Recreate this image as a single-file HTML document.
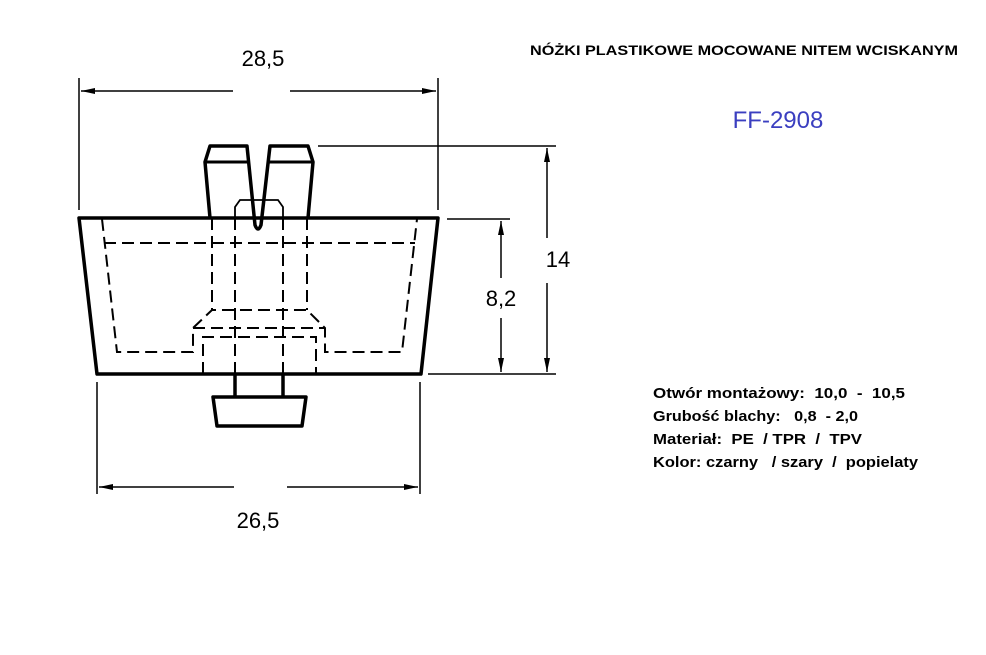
<!DOCTYPE html>
<html><head><meta charset="utf-8"><style>
html,body{margin:0;padding:0;background:#fff;}
svg{display:block;}
text{white-space:pre;}
</style></head><body>
<svg width="986" height="655" viewBox="0 0 986 655" xmlns="http://www.w3.org/2000/svg">
<defs>
<marker id="a" viewBox="0 0 14 6" refX="14" refY="3" markerWidth="14" markerHeight="6" orient="auto" markerUnits="userSpaceOnUse"><path d="M0,0 L14,3 L0,6 z" fill="#000"/></marker>
</defs>
<g fill="none" stroke="#000">
<path d="M79,218 L438,218 L421,374 L97,374 Z" stroke-width="3.5" stroke-linejoin="round"/>
<path d="M210,218 L205,162 L210,146 L247,146 L255,225 Q258,233 261,225 L270,146 L308,146 L313,162 L308,218" stroke-width="3.5" stroke-linejoin="round"/>
<path d="M205,162 L248,162 M268,162 L313,162" stroke-width="3"/>
<path d="M235,218 L235,207 L240,200 L278,200 L283,207 L283,218" stroke-width="1.8"/>
<path d="M235,374 L235,397 M283,374 L283,397" stroke-width="3.5"/>
<path d="M213,397 L306,397 L302,426 L217,426 Z" stroke-width="3.5" stroke-linejoin="round"/>
<g stroke-width="2" stroke-dasharray="12,6">
<path d="M102,219 L117,352 L193,352 L193,328 L212,310 L307,310 L325,328 L325,352 L402,352 L417,219"/>
<path d="M104,243 L415,243"/>
<path d="M193,328 L325,328"/>
<path d="M212,218 L212,310 M307,218 L307,310"/>
<path d="M203,374 L203,337 L316,337 L316,374"/>
<path d="M235,218 L235,374 M283,218 L283,374"/>
</g>
<g stroke-width="1.5">
<path d="M79,78 L79,210 M438,78 L438,210"/>
<path d="M233,91 L81,91" marker-end="url(#a)"/>
<path d="M290,91 L436,91" marker-end="url(#a)"/>
<path d="M97,382 L97,494 M420,382 L420,494"/>
<path d="M234,487 L99,487" marker-end="url(#a)"/>
<path d="M287,487 L418,487" marker-end="url(#a)"/>
<path d="M318,146 L556,146 M428,374 L556,374 M447,219 L510,219"/>
<path d="M547,238 L547,148" marker-end="url(#a)"/>
<path d="M547,283 L547,372" marker-end="url(#a)"/>
<path d="M501,278 L501,221" marker-end="url(#a)"/>
<path d="M501,318 L501,372" marker-end="url(#a)"/>
</g>
</g>
<g font-family="'Liberation Sans', 'DejaVu Sans', sans-serif" fill="#000">
<text x="263" y="66" font-size="22" text-anchor="middle">28,5</text>
<text x="258" y="528" font-size="22" text-anchor="middle">26,5</text>
<text x="558" y="267" font-size="22" text-anchor="middle">14</text>
<text x="501" y="306" font-size="22" text-anchor="middle">8,2</text>
<text x="530" y="55" font-size="14" font-weight="bold" textLength="428" lengthAdjust="spacingAndGlyphs">NÓŻKI PLASTIKOWE MOCOWANE NITEM WCISKANYM</text>
<text x="778" y="128" font-size="24" fill="#3b3fc0" text-anchor="middle">FF-2908</text>
<g font-size="15" font-weight="bold" xml:space="preserve">
<text x="653" y="398" textLength="252" lengthAdjust="spacingAndGlyphs">Otwór montażowy:  10,0  -  10,5</text>
<text x="653" y="421" textLength="205" lengthAdjust="spacingAndGlyphs">Grubość blachy:   0,8  - 2,0</text>
<text x="653" y="444" textLength="209" lengthAdjust="spacingAndGlyphs">Materiał:  PE  / TPR  /  TPV</text>
<text x="653" y="467" textLength="265" lengthAdjust="spacingAndGlyphs">Kolor: czarny   / szary  /  popielaty</text>
</g>
</g>
</svg>
</body></html>
